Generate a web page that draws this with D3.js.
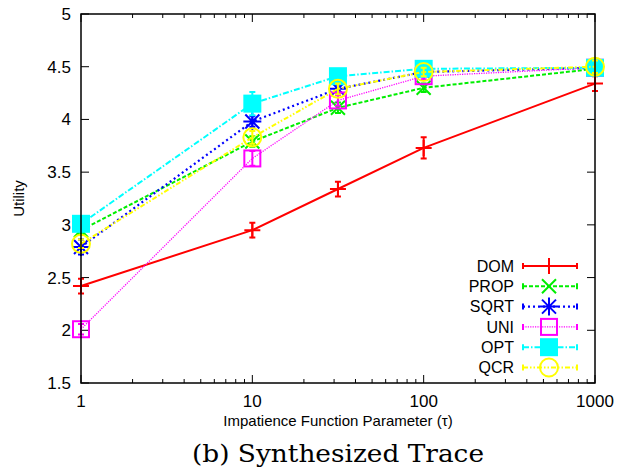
<!DOCTYPE html>
<html>
<head>
<meta charset="utf-8">
<script src="https://cdn.jsdelivr.net/npm/d3@7"></script>
<style>
  body { margin: 0; background: #fff; }
  text { font-family: "Liberation Sans", Arial, sans-serif; }
</style>
</head>
<body>
<script>
// data
var xVals = [1, 10, 31.6, 100, 1000];
var seriesNames = ["DOM", "PROP", "SQRT", "UNI", "OPT", "QCR"];
var domVals  = [2.42, 2.95, 3.34, 3.73, 4.34];
var domErr   = [0.07, 0.07, 0.07, 0.10, 0.07];
var propVals = [2.95, 3.79, 4.11, 4.30, 4.48];
var propErr  = [0.04, 0.05, 0.05, 0.04, 0.03];
var sqrtVals = [2.79, 3.98, 4.29, 4.45, 4.49];
var sqrtErr  = [0.07, 0.05, 0.04, 0.03, 0.03];
var uniVals  = [2.01, 3.63, 4.18, 4.41, 4.49];
var uniErr   = [0.05, 0.07, 0.05, 0.03, 0.03];
var optVals  = [3.01, 4.15, 4.41, 4.48, 4.49];
var optErr   = [0.04, 0.11, 0.05, 0.05, 0.04];
var qcrVals  = [2.82, 3.83, 4.29, 4.45, 4.50];
var qcrErr   = [0.04, 0.06, 0.05, 0.04, 0.06];
var yTicks = [1.5, 2, 2.5, 3, 3.5, 4, 4.5, 5];
var xTicks = [1, 10, 100, 1000];

var W = 627, H = 473;
var margin = {left: 81, right: 32, top: 14, bottom: 90},
    width = W - margin.left - margin.right,
    height = H - margin.top - margin.bottom;

var x = d3.scaleLog().domain([1, 1000]).range([0, width]);
var y = d3.scaleLinear().domain([1.5, 5]).range([height, 0]);

var svg = d3.select("body").append("svg")
    .attr("width", W).attr("height", H);
var g = svg.append("g")
    .attr("transform", "translate(" + margin.left + "," + margin.top + ")");

// ticks: log minor ticks on top and bottom, majors on left and right, all inward
var minor = [];
[1, 10, 100].forEach(function(d) {
  for (var k = 2; k <= 9; k++) minor.push(d * k);
});
var tickG = g.append("g").attr("stroke", "#000").attr("stroke-width", 1);
xTicks.forEach(function(t) {
  tickG.append("line").attr("x1", x(t)).attr("x2", x(t)).attr("y1", height).attr("y2", height - 8);
  tickG.append("line").attr("x1", x(t)).attr("x2", x(t)).attr("y1", 0).attr("y2", 8);
});
minor.forEach(function(t) {
  tickG.append("line").attr("x1", x(t)).attr("x2", x(t)).attr("y1", height).attr("y2", height - 4);
  tickG.append("line").attr("x1", x(t)).attr("x2", x(t)).attr("y1", 0).attr("y2", 4);
});
yTicks.forEach(function(t) {
  tickG.append("line").attr("x1", 0).attr("x2", 8).attr("y1", y(t)).attr("y2", y(t));
  tickG.append("line").attr("x1", width).attr("x2", width - 8).attr("y1", y(t)).attr("y2", y(t));
});

// tick labels
g.selectAll(".ylab").data(yTicks).enter().append("text")
    .attr("x", -10).attr("y", function(d) { return y(d); })
    .attr("dy", "0.35em").attr("text-anchor", "end")
    .attr("font-size", 17)
    .text(function(d) { return d; });
g.selectAll(".xlab").data(xTicks).enter().append("text")
    .attr("x", function(d) { return x(d); }).attr("y", height + 24)
    .attr("text-anchor", "middle")
    .attr("font-size", 17)
    .text(function(d) { return d; });

// axis titles
svg.append("text")
    .attr("transform", "translate(24," + (margin.top + height / 2) + ") rotate(-90)")
    .attr("text-anchor", "middle").attr("font-size", 15)
    .text("Utility");
svg.append("text")
    .attr("x", margin.left + width / 2).attr("y", 426)
    .attr("text-anchor", "middle").attr("font-size", 15)
    .text("Impatience Function Parameter (\u03c4)");
svg.append("text")
    .attr("x", margin.left + width / 2).attr("y", 462)
    .attr("text-anchor", "middle").attr("font-size", 25)
    .attr("textLength", 292).attr("lengthAdjust", "spacingAndGlyphs")
    .style("font-family", "'DejaVu Serif', 'Liberation Serif', serif")
    .text("(b) Synthesized Trace");

// series
var series = [
  {name: "DOM",  vals: domVals,  err: domErr,  color: "#ff0000", dash: null,          w: 2,   marker: "plus"},
  {name: "PROP", vals: propVals, err: propErr, color: "#00ee00", dash: "4,2",         w: 2,   marker: "cross"},
  {name: "SQRT", vals: sqrtVals, err: sqrtErr, color: "#0000ff", dash: "2,3",         w: 2.2, marker: "star"},
  {name: "UNI",  vals: uniVals,  err: uniErr,  color: "#ff00ff", dash: "1.2,1.2",     w: 1.3, marker: "square"},
  {name: "OPT",  vals: optVals,  err: optErr,  color: "#00ffff", dash: "6,2,1.5,2",   w: 2,   marker: "fsquare"},
  {name: "QCR",  vals: qcrVals,  err: qcrErr,  color: "#ffff00", dash: "5,2,1.5,2,1.5,2", w: 2, marker: "circle"}
];

var line = d3.line()
    .x(function(d) { return x(d[0]); })
    .y(function(d) { return y(d[1]); });

function drawMarker(sel, type, color, cx, cy) {
  var m = sel.append("g").attr("transform", "translate(" + cx + "," + cy + ")")
      .attr("stroke", color).attr("stroke-width", 2).attr("fill", "none");
  var r = 8;
  if (type == "plus") {
    m.append("path").attr("d", "M" + (-r) + ",0H" + r + "M0," + (-r) + "V" + r);
  } else if (type == "cross") {
    m.append("path").attr("d", "M-7,-7L7,7M-7,7L7,-7");
  } else if (type == "star") {
    m.append("path").attr("d", "M-7,-7L7,7M-7,7L7,-7M-9,0H9M0,-9V9");
  } else if (type == "square") {
    m.append("rect").attr("x", -8).attr("y", -8).attr("width", 16).attr("height", 16);
  } else if (type == "fsquare") {
    m.append("rect").attr("x", -9).attr("y", -9).attr("width", 18).attr("height", 18)
        .attr("fill", color).attr("stroke", "none");
  } else if (type == "circle") {
    m.append("circle").attr("r", 9);
  }
}

series.forEach(function(s) {
  var pts = xVals.map(function(xv, i) { return [xv, s.vals[i], s.err[i]]; });
  var sg = g.append("g");
  sg.append("path").datum(pts)
      .attr("d", line)
      .attr("fill", "none")
      .attr("stroke", s.color)
      .attr("stroke-width", s.w)
      .attr("stroke-dasharray", s.dash);
  // error bars
  sg.selectAll(".eb").data(pts).enter().append("path")
      .attr("stroke", s.color).attr("stroke-width", 2).attr("fill", "none")
      .attr("d", function(d) {
        var cx = x(d[0]), y0 = y(d[1] - d[2]), y1 = y(d[1] + d[2]);
        return "M" + cx + "," + y0 + "V" + y1 +
               "M" + (cx - 3) + "," + y0 + "H" + (cx + 3) +
               "M" + (cx - 3) + "," + y1 + "H" + (cx + 3);
      });
  pts.forEach(function(d) { drawMarker(sg, s.marker, s.color, x(d[0]), y(d[1])); });
});

// legend
var leg = g.append("g");
series.forEach(function(s, i) {
  var ly = 266 + i * 20.3 - margin.top;
  var x0 = 523 - margin.left, x1 = 577 - margin.left, mx = 549 - margin.left;
  leg.append("text")
      .attr("x", 514 - margin.left).attr("y", ly).attr("dy", "0.35em")
      .attr("text-anchor", "end").attr("font-size", 16)
      .text(s.name);
  leg.append("line")
      .attr("x1", x0).attr("x2", x1).attr("y1", ly).attr("y2", ly)
      .attr("stroke", s.color).attr("stroke-width", s.w)
      .attr("stroke-dasharray", s.dash);
  leg.append("path")
      .attr("stroke", s.color).attr("stroke-width", 2).attr("fill", "none")
      .attr("d", "M" + x0 + "," + (ly - 3) + "V" + (ly + 3) + "M" + x1 + "," + (ly - 3) + "V" + (ly + 3));
  drawMarker(leg, s.marker, s.color, mx, ly);
});

// frame
g.append("rect").attr("width", width).attr("height", height)
    .attr("fill", "none").attr("stroke", "#000").attr("stroke-width", 1.5);
</script>
</body>
</html>
